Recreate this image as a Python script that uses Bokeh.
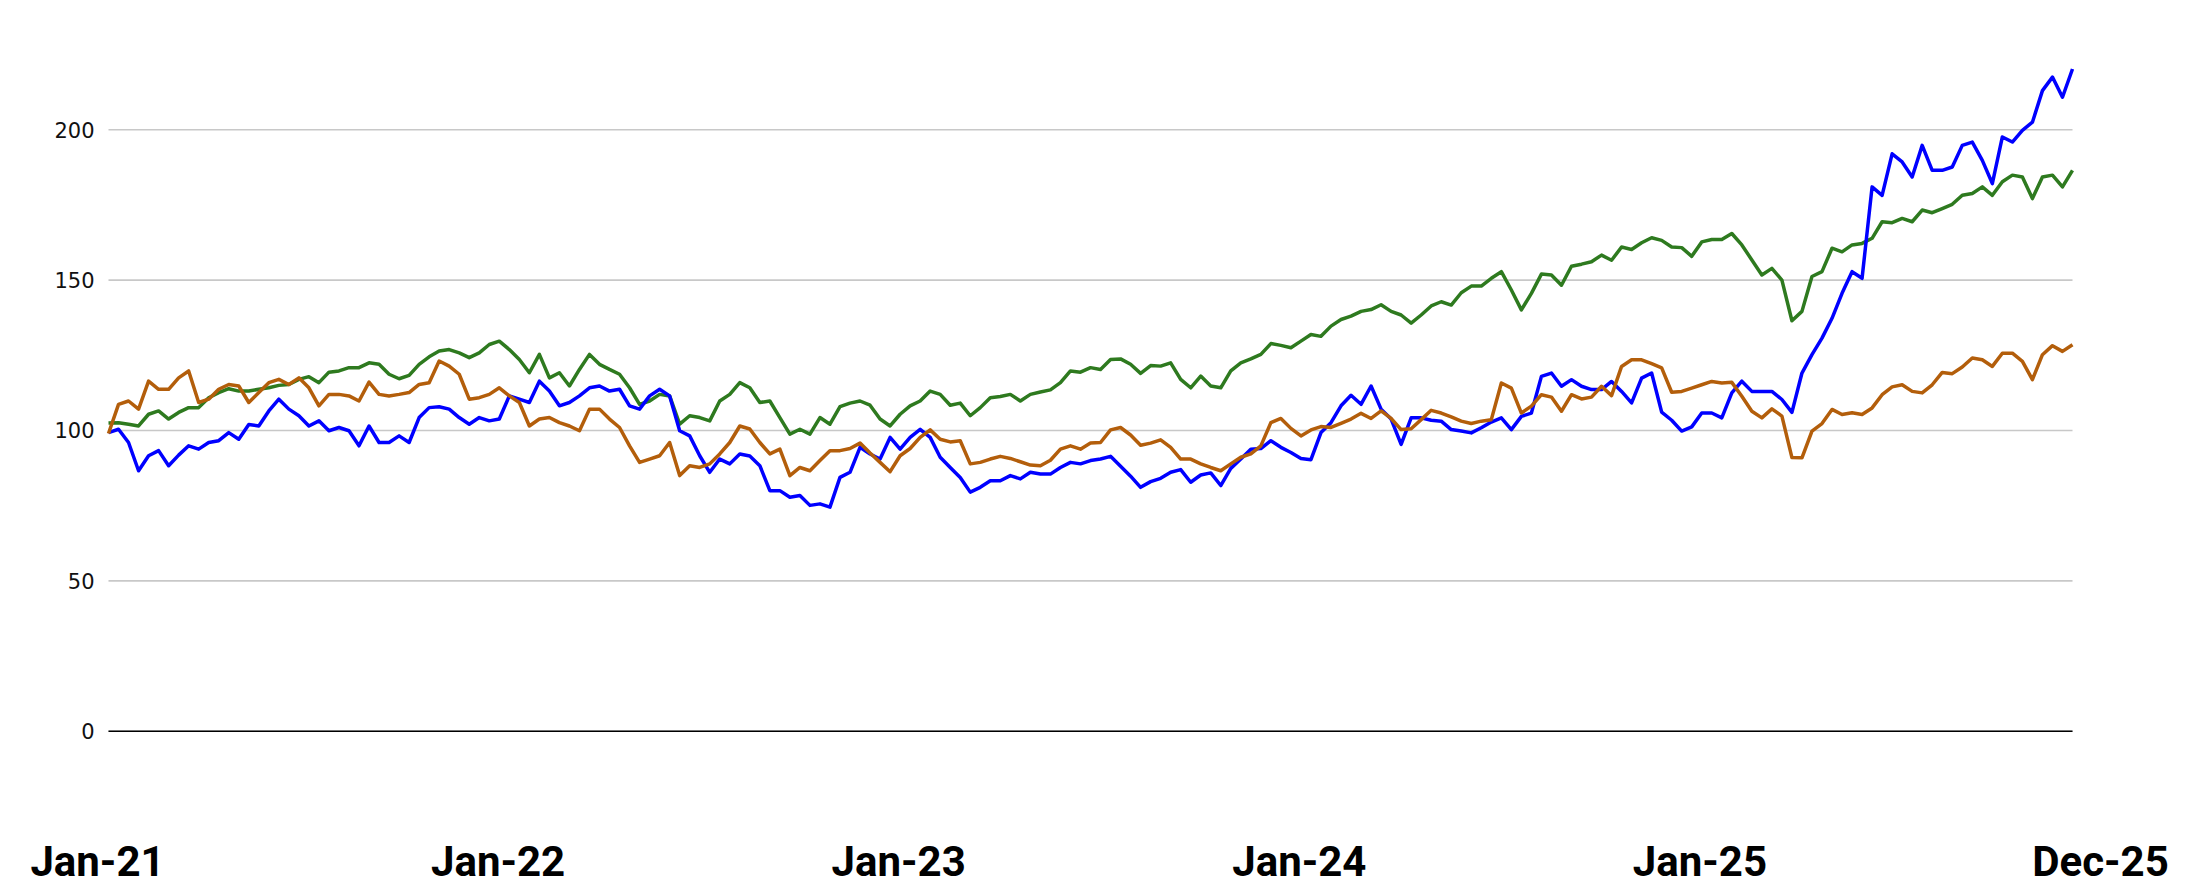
from bokeh.plotting import figure
from bokeh.models import Range1d, FixedTicker
from bokeh.embed import file_html
from bokeh.resources import INLINE

# ---- data (index values, base 100) ----
blue = [99.3, 100.4, 96.0, 86.6, 91.6, 93.3, 88.3, 91.8, 94.9, 93.8, 96.0, 96.6, 99.3, 97.1, 102.0, 101.5,
        106.5, 110.4, 107.1, 104.9, 101.5, 103.2, 99.9, 101.0, 99.9, 94.9, 101.5, 96.0, 96.0, 98.2, 96.0, 104.3, 107.6,
        107.9, 107.1, 104.3, 102.1, 104.3, 103.2, 103.8, 111.5, 110.4, 109.3, 116.4, 113.1, 108.2, 109.3, 111.5, 114.2,
        114.8, 113.1, 113.7, 108.2, 107.1, 111.5, 113.7, 111.5, 99.9, 98.2, 91.6, 86.1, 90.5, 88.9, 92.2, 91.5,
        88.3, 80.0, 80.0, 77.8, 78.4, 75.1, 75.6, 74.5, 84.4, 86.1, 94.4, 92.2, 90.5, 97.7, 93.8, 97.7,
        100.4, 97.7, 91.1, 87.7, 84.4, 79.5, 81.1, 83.3, 83.3, 85.0, 83.9, 86.1, 85.5, 85.5, 87.7, 89.4,
        88.9, 90.0, 90.5, 91.4, 88.1, 84.8, 81.1, 83.0, 84.1, 86.1, 87.0, 82.8, 85.2, 85.9, 81.7, 87.4,
        90.5, 93.8, 94.0, 96.6, 94.4, 92.7, 90.7, 90.3, 99.3, 102.6, 108.2, 111.7, 108.7, 114.8, 107.1, 103.8,
        95.4, 104.2, 104.2, 103.4, 103.1, 100.3, 99.8, 99.2, 100.9, 102.8, 104.2, 100.3, 104.7, 105.8, 118.0, 119.1,
        114.7, 116.9, 114.7, 113.6, 113.6, 116.3, 113.0, 109.2, 117.4, 119.1, 106.1, 103.4, 99.8, 101.2, 105.8, 105.8,
        104.2, 112.5, 116.4, 113.0, 113.0, 113.0, 110.3, 106.0, 119.1, 125.2, 130.7, 137.3, 145.6, 152.8, 150.6, 181.0,
        178.2, 192.0, 189.3, 184.3, 194.8, 186.5, 186.5, 187.6, 194.8, 195.9, 189.8, 182.1, 197.6, 195.9, 199.8, 202.5,
        213.0, 217.5, 210.8, 220.2]

orange = [99.0, 108.7, 109.8, 107.1, 116.4, 113.7, 113.7, 117.5, 119.8, 109.3, 110.4, 113.7, 115.3, 114.8, 109.3, 112.6,
          115.9, 117.0, 115.3, 117.5, 114.2, 108.2, 112.0, 112.0, 111.5, 109.8, 116.1, 112.0, 111.5, 112.0, 112.6, 115.3, 115.9,
          123.1, 121.4, 118.7, 110.4, 110.9, 112.0, 114.2, 111.5, 109.3, 101.5, 103.8, 104.3, 102.6, 101.5, 99.9, 107.1,
          107.1, 103.8, 101.0, 94.9, 89.4, 90.5, 91.6, 96.0, 85.0, 88.3, 87.7, 88.9, 92.2, 96.0, 101.5, 100.5,
          96.0, 92.2, 93.8, 85.0, 87.7, 86.6, 90.0, 93.3, 93.3, 94.0, 95.8, 92.5, 89.4, 86.3, 91.6, 94.0,
          97.7, 100.2, 97.1, 96.2, 96.6, 88.9, 89.4, 90.5, 91.4, 90.7, 89.6, 88.5, 88.3, 90.1, 93.8, 94.9,
          93.8, 95.8, 96.0, 100.2, 101.0, 98.5, 95.1, 95.8, 96.9, 94.4, 90.5, 90.5, 88.9, 87.7, 86.6, 88.9,
          91.1, 92.2, 94.9, 102.6, 104.0, 100.7, 98.2, 100.2, 101.3, 101.0, 102.4, 103.8, 105.7, 104.0, 106.5, 104.0,
          100.3, 100.6, 103.6, 106.7, 105.8, 104.5, 103.1, 102.3, 103.1, 103.6, 115.8, 114.1, 105.8, 108.1, 111.9, 111.1,
          106.4, 111.9, 110.5, 111.1, 114.7, 111.6, 121.3, 123.5, 123.5, 122.2, 120.8, 112.7, 113.0, 114.1, 115.2, 116.3,
          115.8, 116.0, 111.4, 106.4, 104.2, 107.2, 104.8, 91.0, 90.9, 99.8, 102.3, 107.0, 105.3, 105.9, 105.3, 107.5,
          111.9, 114.5, 115.2, 113.0, 112.5, 115.2, 119.3, 118.9, 121.1, 124.1, 123.5, 121.3, 125.7, 125.7, 123.0, 116.9,
          125.2, 128.2, 126.3, 128.5]

green = [102.5, 102.6, 102.1, 101.5, 105.4, 106.5, 103.8, 106.0, 107.6, 107.6, 110.9, 112.6, 113.9, 113.1, 113.1, 113.7,
         114.2, 115.0, 115.3, 117.0, 117.9, 115.9, 119.4, 119.8, 120.9, 120.9, 122.5, 122.0, 118.7, 117.2, 118.3, 122.0, 124.5,
         126.4, 126.9, 125.8, 124.2, 125.8, 128.6, 129.7, 126.9, 123.6, 119.2, 125.3, 117.5, 119.2, 114.8, 120.3, 125.3,
         122.0, 120.3, 118.7, 114.2, 108.7, 109.8, 112.0, 111.5, 102.1, 104.9, 104.3, 103.2, 109.8, 112.0, 115.9, 114.2,
         109.3, 109.8, 104.3, 98.8, 100.4, 98.8, 104.3, 102.1, 107.9, 109.1, 109.8, 108.4, 103.8, 101.5, 105.4, 108.2,
         109.8, 113.1, 112.0, 108.4, 109.1, 104.9, 107.6, 110.9, 111.3, 112.0, 109.8, 112.0, 112.8, 113.5, 115.9, 119.8,
         119.4, 120.9, 120.3, 123.6, 123.8, 122.0, 119.0, 121.6, 121.4, 122.5, 117.0, 114.2, 118.1, 114.8, 114.2, 119.8,
         122.5, 123.8, 125.3, 128.9, 128.3, 127.5, 129.7, 131.9, 131.3, 134.7, 136.9, 138.0, 139.6, 140.2, 141.8, 139.6,
         138.4, 135.7, 138.4, 141.4, 142.8, 141.7, 145.8, 148.0, 148.0, 150.6, 152.8, 146.7, 140.1, 145.6, 152.0, 151.7,
         148.3, 154.6, 155.3, 156.1, 158.3, 156.6, 161.0, 160.2, 162.4, 164.1, 163.2, 161.0, 160.8, 157.9, 162.7, 163.5,
         163.5, 165.5, 161.7, 156.7, 151.7, 153.9, 150.0, 136.5, 139.6, 151.2, 152.8, 160.6, 159.4, 161.7, 162.2, 163.9,
         169.4, 169.1, 170.5, 169.4, 173.3, 172.4, 173.8, 175.2, 178.2, 178.8, 181.0, 178.2, 182.7, 184.9, 184.3, 177.1,
         184.3, 184.9, 181.0, 186.5]

x_labels = ["Jan-21", "Jan-22", "Jan-23", "Jan-24", "Jan-25", "Dec-25"]
y_ticks = [0, 50, 100, 150, 200]

N = len(blue)
xs = list(range(N))

# ---- layout (pixels) ----
W, H = 2186, 888
DATA_LEFT, DATA_RIGHT = 108, 2072      # where the series start / end
FRAME_LEFT, FRAME_RIGHT = 95, 2112     # frame a bit wider so the outer labels fit
TOP, BOTTOM = 39, 52
LAB_FIRST, LAB_LAST = 97, 2100         # centres of first / last x label

ppu = (DATA_RIGHT - DATA_LEFT) / (N - 1)
x_start = -(DATA_LEFT - FRAME_LEFT) / ppu
x_end = (N - 1) + (FRAME_RIGHT - DATA_RIGHT) / ppu

p = figure(width=W, height=H, output_backend="svg", toolbar_location=None,
           x_range=Range1d(x_start, x_end), y_range=Range1d(-34, 230),
           min_border_left=FRAME_LEFT, min_border_right=W - FRAME_RIGHT,
           min_border_top=TOP, min_border_bottom=BOTTOM,
           background_fill_color="white", border_fill_color="white")
p.outline_line_color = None
p.xgrid.grid_line_color = None
p.ygrid.grid_line_color = None

# horizontal gridlines spanning the data extent
p.segment(x0=[xs[0]] * len(y_ticks), x1=[xs[-1]] * len(y_ticks), y0=y_ticks, y1=y_ticks,
          line_color="#c8c8c8", line_width=1.6)
# zero baseline
p.segment(x0=[xs[0]], x1=[xs[-1]], y0=[y_ticks[0]], y1=[y_ticks[0]],
          line_color="black", line_width=1.6)

# series
p.line(xs, green, line_color="#2e7a1f", line_width=3.5, line_join="round")
p.line(xs, blue, line_color="#0000ff", line_width=3.5, line_join="round")
p.line(xs, orange, line_color="#b35e0b", line_width=3.5, line_join="round")

# y axis
p.yaxis.ticker = FixedTicker(ticks=y_ticks)
p.yaxis.axis_line_color = None
p.yaxis.major_tick_line_color = None
p.yaxis.minor_tick_line_color = None
p.yaxis.major_tick_out = 0
p.yaxis.major_label_standoff = 1
p.yaxis.major_label_text_font = "DejaVu Sans"
p.yaxis.major_label_text_font_size = "21px"
p.yaxis.major_label_text_color = "#111111"

# x axis: evenly spaced labels
n_lab = len(x_labels)
lab_start = (LAB_FIRST - DATA_LEFT) / ppu
lab_end = (LAB_LAST - DATA_LEFT) / ppu
step = (lab_end - lab_start) / (n_lab - 1)
tick_pos = [lab_start + i * step for i in range(n_lab)]
p.xaxis.ticker = FixedTicker(ticks=tick_pos)
p.xaxis.major_label_overrides = {t: s for t, s in zip(tick_pos, x_labels)}
p.xaxis.axis_line_color = None
p.xaxis.major_tick_line_color = None
p.xaxis.minor_tick_line_color = None
p.xaxis.major_tick_out = 0
p.xaxis.major_label_standoff = 3
p.xaxis.major_label_text_font = "Roboto"
p.xaxis.major_label_text_font_style = "bold"
p.xaxis.major_label_text_font_size = "42px"
p.xaxis.major_label_text_color = "black"

open("out.html", "w").write(file_html(p, INLINE))
